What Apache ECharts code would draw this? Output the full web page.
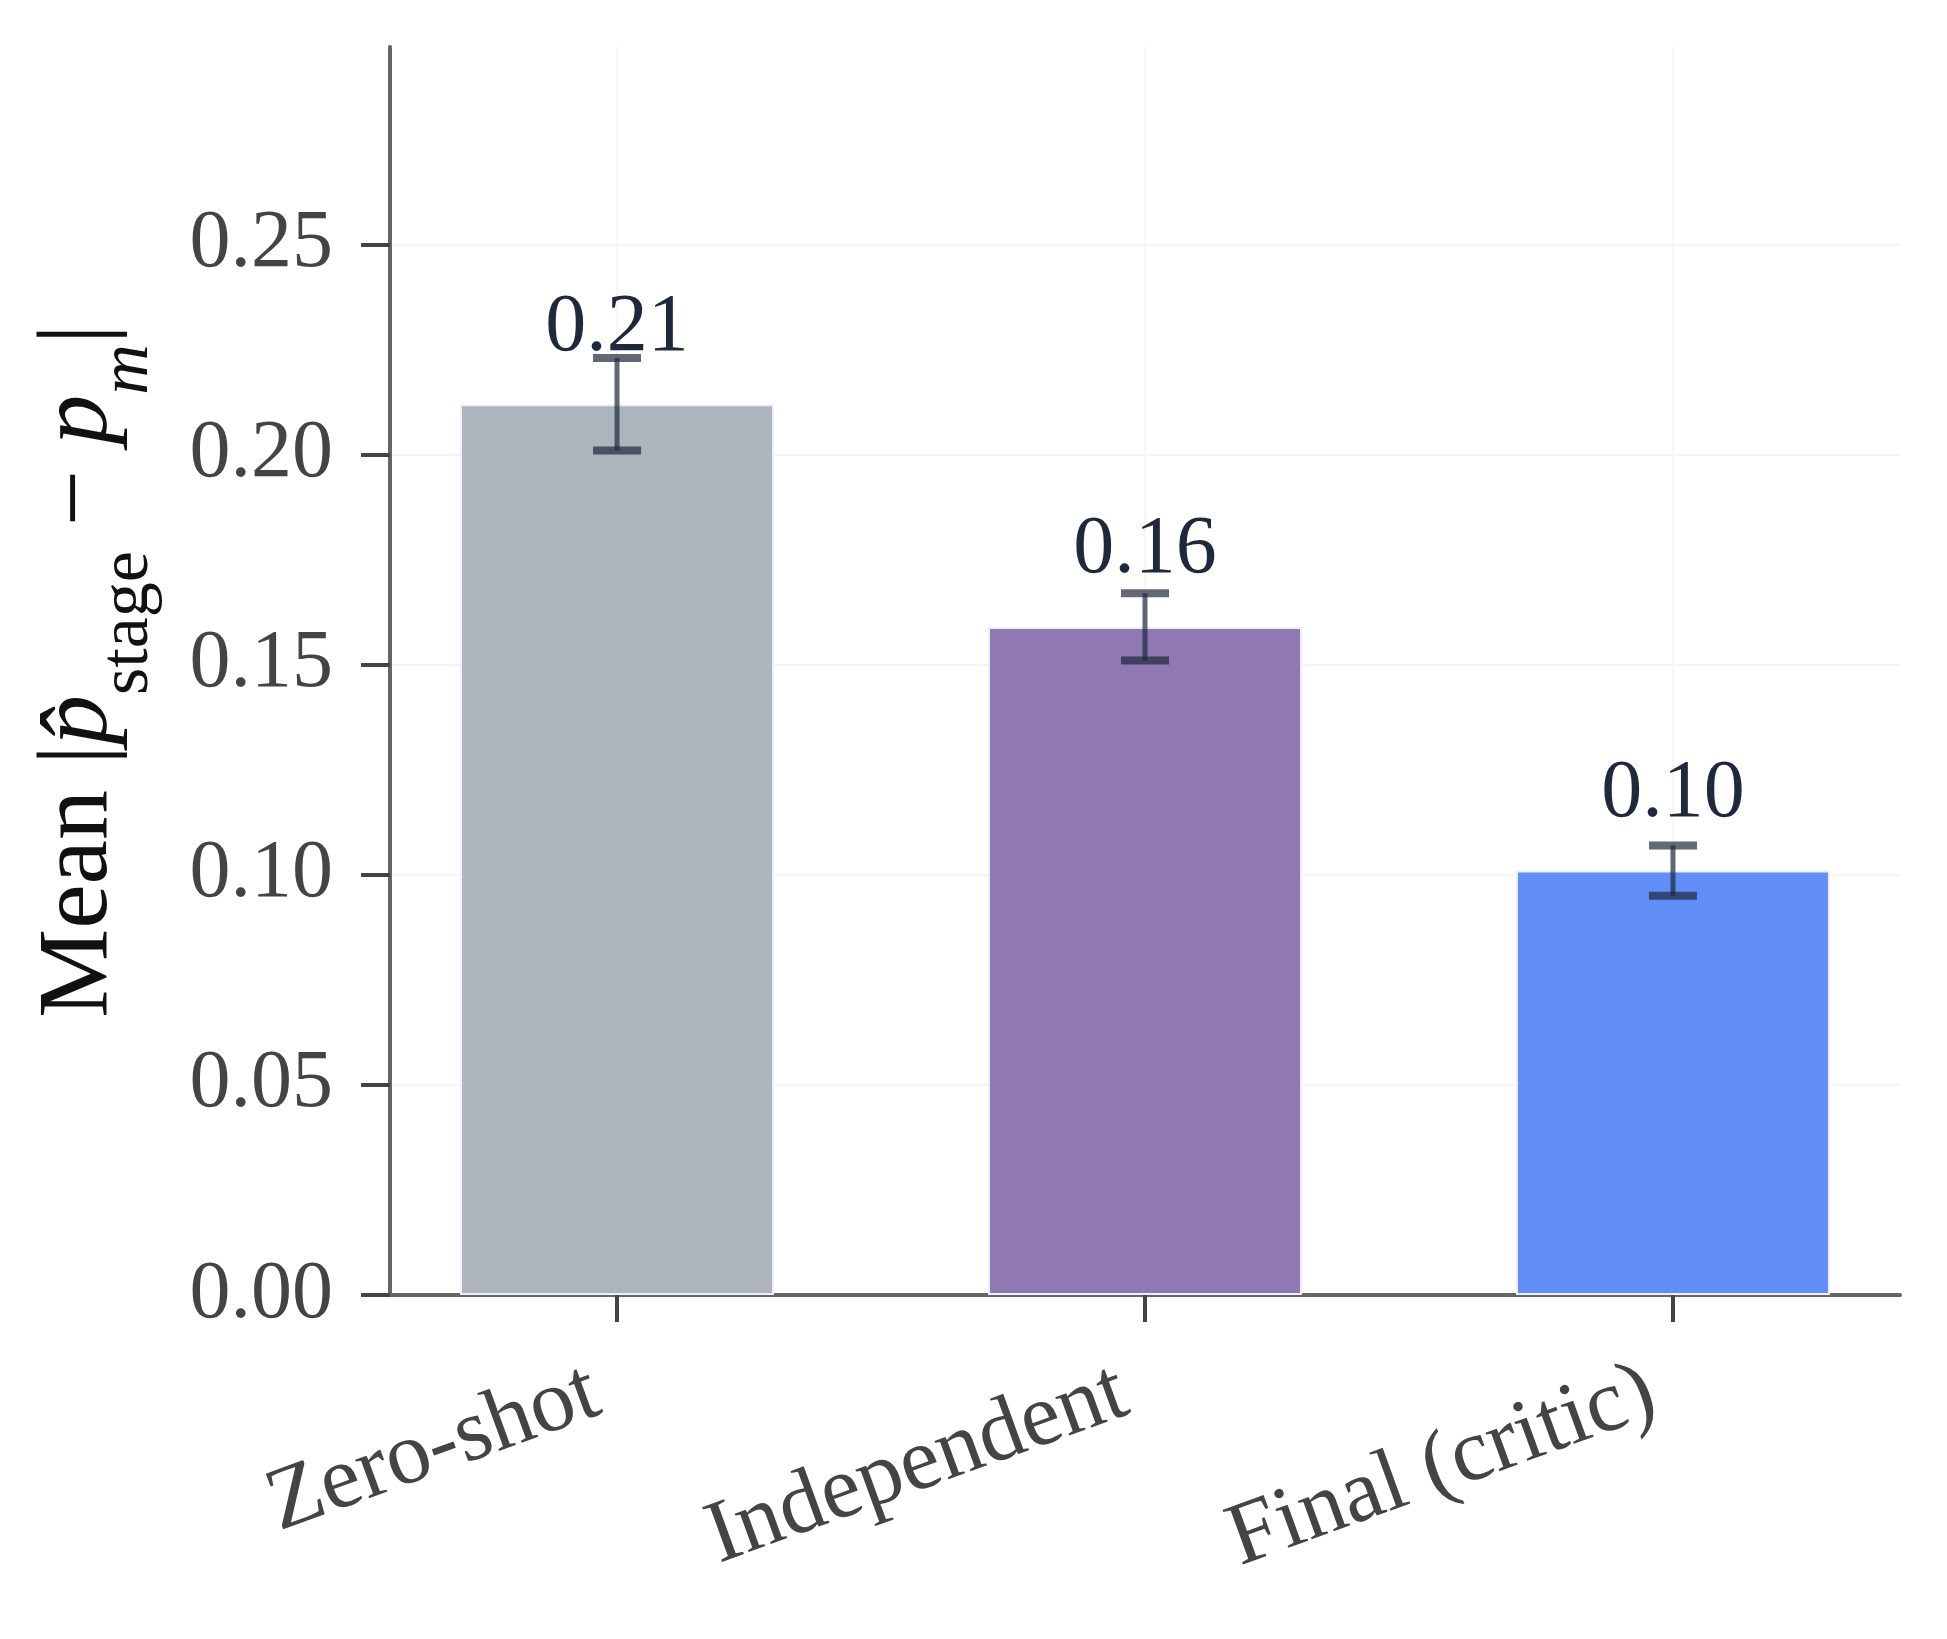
<!DOCTYPE html>
<html>
<head>
<meta charset="utf-8">
<script src="https://cdn.jsdelivr.net/npm/echarts@6/dist/echarts.min.js"></script>
<style>
  html, body { margin: 0; padding: 0; background: #fff; }
  #chart { width: 1947px; height: 1639px; }
</style>
</head>
<body>
<div id="chart"></div>
<script>
const stages = ["Zero-shot", "Independent", "Final (critic)"];
const meanErr = [0.212, 0.159, 0.101];
const errLow = [0.201, 0.151, 0.095];
const errHigh = [0.223, 0.167, 0.107];
const barColors = ["#adb4be", "#8f78b4", "#648ef7"];
const yTicks = [0, 0.05, 0.10, 0.15, 0.20, 0.25];
const xTicks = [0, 1, 2];

const serif = "'Liberation Serif', 'DejaVu Serif', serif";

const barData = meanErr.map((v, i) => ({
  value: [i, v],
  itemStyle: { color: barColors[i] }
}));

const errData = meanErr.map((v, i) => [i, errLow[i], errHigh[i]]);

function renderErr(params, api) {
  const lo = api.coord([api.value(0), api.value(1)]);
  const hi = api.coord([api.value(0), api.value(2)]);
  const half = 24;
  const style = { stroke: "rgba(30,41,59,0.7)", lineWidth: 5 };
  const capStyle = { stroke: "rgba(30,41,59,0.7)", lineWidth: 8 };
  return {
    type: "group",
    children: [
      { type: "line", shape: { x1: hi[0], y1: hi[1], x2: lo[0], y2: lo[1] }, style: style },
      { type: "line", shape: { x1: hi[0] - half, y1: hi[1], x2: hi[0] + half, y2: hi[1] }, style: capStyle },
      { type: "line", shape: { x1: lo[0] - half, y1: lo[1], x2: lo[0] + half, y2: lo[1] }, style: capStyle }
    ]
  };
}

const chart = echarts.init(document.getElementById("chart"));
chart.setOption({
  animation: false,
  backgroundColor: "#ffffff",
  grid: { left: 390, right: 47, top: 47, bottom: 344, outerBoundsMode: "none", containLabel: false },
  xAxis: {
    type: "value",
    min: -0.43,
    max: 2.43,
    axisLine: { show: true, onZero: false, lineStyle: { color: "#666", width: 4 } },
    axisTick: { show: true, customValues: xTicks, length: 27, lineStyle: { color: "#444", width: 4 } },
    axisLabel: {
      customValues: xTicks,
      formatter: v => stages[Math.round(v)],
      rotate: 20,
      margin: 88,
      padding: [0, 22, 0, 0],
      fontFamily: serif,
      fontSize: 89,
      color: "#444"
    },
    splitLine: { show: true, lineStyle: { color: "#f6f6f6", width: 2 } }
  },
  yAxis: {
    type: "value",
    min: 0,
    max: 0.297,
    name: "{t|Mean |}{p|p\u0302}{s|stage}{t| \u2212 }{p|p}{si|m}{t||}",
    nameLocation: "middle",
    nameGap: 260,
    nameTextStyle: {
      rich: {
        t: { fontFamily: serif, fontSize: 100, color: "#111" },
        p: { fontFamily: serif, fontStyle: "italic", fontSize: 100, color: "#111" },
        s: { fontFamily: serif, fontSize: 70, color: "#111", verticalAlign: "bottom", padding: [0, 0, -34, 0] },
        si: { fontFamily: serif, fontStyle: "italic", fontSize: 70, color: "#111", verticalAlign: "bottom", padding: [0, 0, -34, 0] }
      }
    },
    axisLine: { show: true, onZero: false, lineStyle: { color: "#666", width: 4 } },
    axisTick: { show: true, customValues: yTicks, length: 29, lineStyle: { color: "#444", width: 4 } },
    axisLabel: {
      customValues: yTicks,
      formatter: v => v.toFixed(2),
      margin: 57,
      fontFamily: serif,
      fontSize: 82,
      color: "#444"
    },
    splitLine: { show: true, lineStyle: { color: "#f6f6f6", width: 2 } }
  },
  series: [
    {
      type: "bar",
      data: barData,
      barWidth: 314,
      z: 2,
      itemStyle: { borderColor: "#eef0f5", borderWidth: 2 },
      label: {
        show: true,
        position: "top",
        distance: 35,
        formatter: p => p.value[1].toFixed(2),
        fontFamily: serif,
        fontSize: 82,
        color: "#1e293b"
      }
    },
    {
      type: "custom",
      data: errData,
      z: 5,
      renderItem: renderErr
    }
  ]
});
</script>
</body>
</html>
